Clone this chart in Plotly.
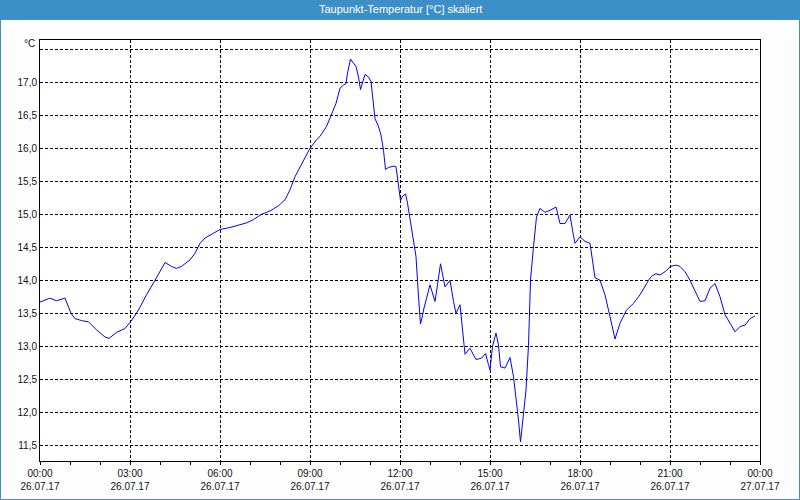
import plotly.graph_objects as go

# --- data -------------------------------------------------------------
times_min = [0, 20, 33, 50, 62, 70, 83, 97, 113, 130, 138, 153, 170, 181, 197, 213, 230, 250,
             263, 273, 283, 300, 310, 320, 330, 347, 360, 380, 397, 413, 427, 443, 460, 477,
             490, 500, 510, 523, 540, 553, 560, 573, 583, 592, 600, 607, 612, 615, 621, 627,
             632, 637, 641, 650, 657, 662, 665, 670, 677, 682, 687, 691, 697, 708, 712, 715,
             717, 721, 725, 731, 735, 743, 750, 752, 757, 761, 764, 768, 780, 790, 795, 801,
             810, 820, 827, 832, 840, 845, 850, 860, 872, 883, 891, 897, 900, 905, 912, 917,
             921, 930, 940, 947, 952, 957, 961, 965, 972, 977, 981, 987, 990, 993, 1000, 1010,
             1020, 1032, 1035, 1040, 1050, 1060, 1065, 1070, 1080, 1090, 1100, 1105, 1110,
             1120, 1130, 1140, 1150, 1160, 1173, 1187, 1200, 1217, 1223, 1232, 1240, 1250,
             1261, 1272, 1280, 1290, 1300, 1310, 1320, 1330, 1340, 1350, 1360, 1370, 1380,
             1390, 1400, 1410, 1420, 1430]
dewpoint = [13.67, 13.73, 13.69, 13.73, 13.50, 13.42, 13.39, 13.37, 13.25, 13.14, 13.12, 13.21,
            13.27, 13.37, 13.55, 13.78, 14.00, 14.27, 14.21, 14.18, 14.21, 14.31, 14.41, 14.56,
            14.64, 14.71, 14.77, 14.80, 14.84, 14.87, 14.92, 15.00, 15.05, 15.13, 15.22, 15.37,
            15.57, 15.75, 16.00, 16.13, 16.18, 16.33, 16.50, 16.68, 16.91, 16.96, 16.98, 17.14,
            17.35, 17.29, 17.24, 17.08, 16.89, 17.12, 17.08, 17.01, 16.78, 16.45, 16.33, 16.20,
            15.97, 15.68, 15.71, 15.73, 15.72, 15.52, 15.42, 15.21, 15.27, 15.31, 15.17, 14.76,
            14.46, 14.36, 13.75, 13.34, 13.43, 13.58, 13.93, 13.68, 13.93, 14.25, 13.90, 14.00,
            13.68, 13.50, 13.63, 13.25, 12.88, 12.97, 12.80, 12.82, 12.89, 12.72, 12.64, 13.00,
            13.20, 13.02, 12.69, 12.67, 12.83, 12.54, 12.24, 11.88, 11.55, 11.83, 12.34, 13.02,
            14.00, 14.51, 14.81, 14.96, 15.09, 15.03, 15.06, 15.11, 15.02, 14.86, 14.86, 14.99,
            14.76, 14.56, 14.66, 14.59, 14.56, 14.31, 14.04, 14.00, 13.78, 13.45, 13.11, 13.35,
            13.55, 13.65, 13.78, 14.00, 14.06, 14.10, 14.08, 14.13, 14.21, 14.23, 14.21, 14.13,
            14.00, 13.84, 13.68, 13.69, 13.88, 13.95, 13.75, 13.48, 13.35, 13.22, 13.30, 13.32,
            13.42, 13.46]

x_tickvals = ["2017-07-26 00:00", "2017-07-26 03:00", "2017-07-26 06:00", "2017-07-26 09:00",
              "2017-07-26 12:00", "2017-07-26 15:00", "2017-07-26 18:00", "2017-07-26 21:00",
              "2017-07-27 00:00"]
x_ticktext = ["00:00<br>26.07.17", "03:00<br>26.07.17", "06:00<br>26.07.17", "09:00<br>26.07.17",
              "12:00<br>26.07.17", "15:00<br>26.07.17", "18:00<br>26.07.17", "21:00<br>26.07.17",
              "00:00<br>27.07.17"]
y_tickvals = [11.5, 12.0, 12.5, 13.0, 13.5, 14.0, 14.5, 15.0, 15.5, 16.0, 16.5, 17.0, 17.5]
y_ticktext = ["11,5", "12,0", "12,5", "13,0", "13,5", "14,0", "14,5", "15,0", "15,5", "16,0",
              "16,5", "17,0", ""]

title_text = "Taupunkt-Temperatur [°C] skaliert"
unit_text = "°C"

times = ["2017-07-26 %02d:%02d" % (m // 60, m % 60) for m in times_min]

W, H = 800, 500
L, R, T, B = 40, 760, 40, 461
BLUE = "#3c8fc7"
FONT = "Liberation Sans"
TXT = "#101020"

fig = go.Figure()
fig.add_trace(go.Scatter(x=times, y=dewpoint, mode="lines",
                         line=dict(color="#0000ff", width=1), hoverinfo="skip",
                         showlegend=False))

fig.update_layout(
    width=W, height=H,
    margin=dict(l=0, r=0, t=0, b=0, autoexpand=False),
    paper_bgcolor="#fdfefd", plot_bgcolor="#ffffff",
    font=dict(family=FONT, size=10, color=TXT),
    xaxis=dict(domain=[L / W, R / W], type="date", automargin=False,
               range=["2017-07-26 00:00", "2017-07-27 00:00"],
               tickmode="array", tickvals=x_tickvals, ticktext=x_ticktext,
               ticks="outside", ticklen=3, tickcolor="black",
               showgrid=True, gridcolor="black", gridwidth=1, griddash="3px,2px",
               showline=True, linecolor="black", linewidth=1, mirror=True,
               zeroline=False,
               minor=dict(dtick=3600000, ticks="outside", ticklen=3, tickcolor="black",
                          showgrid=False),
               tickfont=dict(family=FONT, size=10, color=TXT)),
    yaxis=dict(domain=[(H - B) / H, (H - T) / H], range=[11.262, 17.641], automargin=False,
               tickmode="array", tickvals=y_tickvals, ticktext=y_ticktext,
               ticks="", showgrid=True, gridcolor="black", gridwidth=1, griddash="3px,2px",
               showline=True, linecolor="black", linewidth=1, mirror=True,
               zeroline=False,
               tickfont=dict(family=FONT, size=10, color=TXT)),
    shapes=[
        dict(type="rect", xref="paper", yref="paper", x0=0, x1=1, y0=1 - 20 / H, y1=1,
             fillcolor=BLUE, line=dict(width=0), layer="above"),
        dict(type="rect", xref="paper", yref="paper", x0=0.5 / W, x1=1 - 0.5 / W,
             y0=0.5 / H, y1=1, line=dict(color=BLUE, width=1), layer="above"),
    ],
    annotations=[
        dict(text=title_text, xref="paper", yref="paper", x=0.5, y=1 - 9 / H,
             xanchor="center", yanchor="middle", showarrow=False,
             font=dict(family=FONT, size=11, color="white")),
        dict(text=unit_text, xref="paper", yref="paper", x=37 / W, y=1 - 44 / H,
             xanchor="right", yanchor="middle", showarrow=False,
             font=dict(family=FONT, size=10, color=TXT)),
    ],
)

fig.write_html("out.html")
